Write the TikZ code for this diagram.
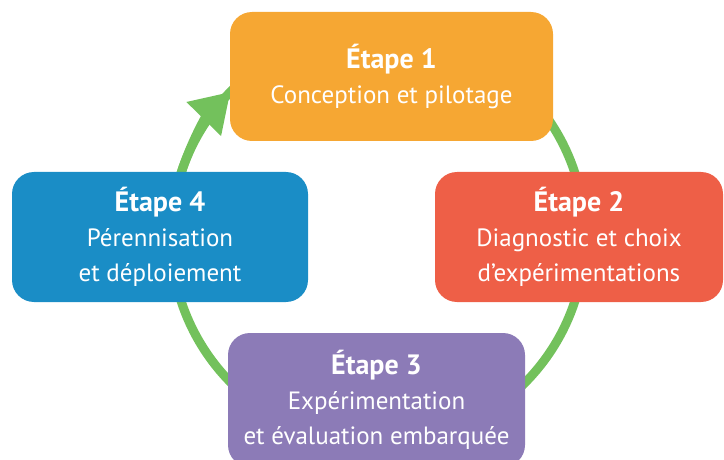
\documentclass[tikz,border=0pt]{standalone}
\usepackage{fontspec}
\setmainfont{PT Sans}
\usepackage{xcolor}
\usetikzlibrary{arrows.meta, backgrounds}

\definecolor{etapeorange}{HTML}{F6A733}
\definecolor{etaperouge}{HTML}{EE5F47}
\definecolor{etapeviolet}{HTML}{8C7BB7}
\definecolor{etapebleu}{HTML}{1A8DC6}
\definecolor{cyclevert}{HTML}{73C15C}

\newcommand{\etapetitre}[1]{{\fontsize{28}{35}\selectfont\bfseries #1}}

\begin{document}
\begin{tikzpicture}[x=1pt, y=1pt,
    etapebox/.style={rectangle, rounded corners=22pt, draw=none, text=white, align=center,
        font=\fontsize{25}{35}\selectfont, inner sep=0pt},
    cycle/.style={draw=cyclevert, line width=9pt}]
    \useasboundingbox (0,0) rectangle (724,459);
    \clip (0,0) rectangle (724,459);
    \coordinate (centre) at (378,222); % centre of the green cycle
    \node[etapebox, fill=etapeorange, minimum width=323pt, minimum height=129pt] (e1) at (391.5,382.5)
        {\etapetitre{Étape 1}\\Conception et pilotage};
    \node[etapebox, fill=etaperouge, minimum width=288pt, minimum height=130pt] (e2) at (579,222)
        {\etapetitre{Étape 2}\\Diagnostic et choix\\d’expérimentations};
    \node[etapebox, fill=etapeviolet, minimum width=297pt, minimum height=134pt] (e3) at (376.5,59)
        {\etapetitre{Étape 3}\\Expérimentation\\et évaluation embarquée};
    \node[etapebox, fill=etapebleu, minimum width=296pt, minimum height=130pt] (e4) at (160,222)
        {\etapetitre{Étape 4}\\Pérennisation\\et déploiement};
    \begin{scope}[on background layer]
    \draw[cycle] (centre) circle (207); % ring behind the boxes
    \draw[cycle, -{Triangle[length=38pt, width=46pt]}] (centre) ++(165:207) arc (165:135.5:207);
    \end{scope}
\end{tikzpicture}
\end{document}
